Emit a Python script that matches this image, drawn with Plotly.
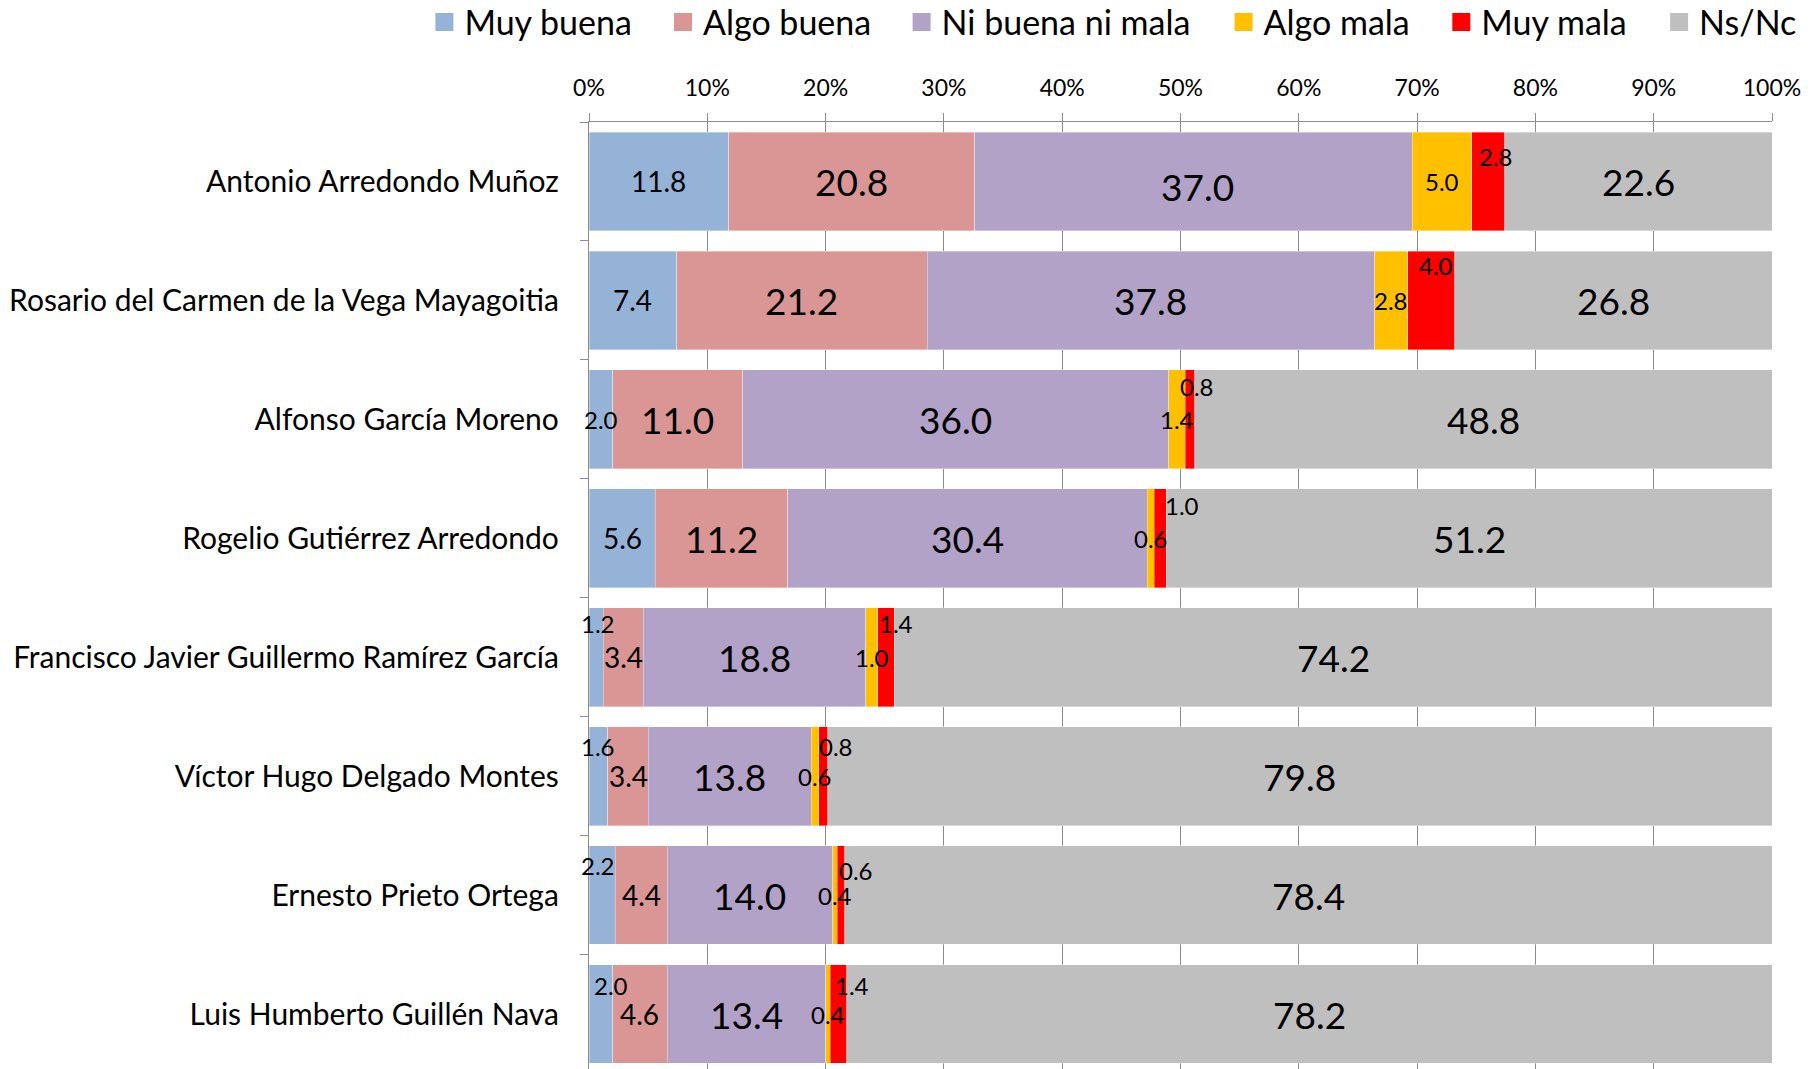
import plotly.graph_objects as go
import numpy as np

# ---------------- data ----------------
candidates = [
    "Antonio Arredondo Muñoz",
    "Rosario del Carmen de la Vega Mayagoitia",
    "Alfonso García Moreno",
    "Rogelio Gutiérrez Arredondo",
    "Francisco Javier Guillermo Ramírez García",
    "Víctor Hugo Delgado Montes",
    "Ernesto Prieto Ortega",
    "Luis Humberto Guillén Nava",
]
muy_buena = [11.8, 7.4, 2.0, 5.6, 1.2, 1.6, 2.2, 2.0]
algo_buena = [20.8, 21.2, 11.0, 11.2, 3.4, 3.4, 4.4, 4.6]
ni_buena_ni_mala = [37.0, 37.8, 36.0, 30.4, 18.8, 13.8, 14.0, 13.4]
algo_mala = [5.0, 2.8, 1.4, 0.6, 1.0, 0.6, 0.4, 0.4]
muy_mala = [2.8, 4.0, 0.8, 1.0, 1.4, 0.8, 0.6, 1.4]
ns_nc = [22.6, 26.8, 48.8, 51.2, 74.2, 79.8, 78.4, 78.2]

series_names = ["Muy buena", "Algo buena", "Ni buena ni mala", "Algo mala", "Muy mala", "Ns/Nc"]
tick_values = [0, 10, 20, 30, 40, 50, 60, 70, 80, 90, 100]
tick_labels = ["0%", "10%", "20%", "30%", "40%", "50%", "60%", "70%", "80%", "90%", "100%"]

# ---------------- styles ----------------
colors = ["#95B3D7", "#D99694", "#B3A2C7", "#FFC000", "#FF0000", "#BFBFBF"]
FONT = "Lato, 'Open Sans', sans-serif"
GRID = "#8C8C8C"
SIZE_L, SIZE_M, SIZE_S = 37, 28, 24
FIG_W, FIG_H = 1816, 1069
# left edge of each legend entry (px inside the figure)
legend_px = [424.4, 663.0, 901.6, 1223.6, 1441.3, 1659.1]
LEGEND_CY = 22.5  # vertical centre of the legend row (px from top)

# label nudges (row, series) -> (dx px, raise px)
label_nudge = {
    (0, 2): (4, -5),
    (0, 4): (8, 25),
    (1, 4): (5, 35),
    (2, 4): (7, 33),
    (3, 4): (22, 33),
    (4, 0): (2, 34), (4, 4): (10, 34),
    (5, 0): (0, 30), (5, 4): (13, 30),
    (6, 0): (-4, 30), (6, 4): (15, 25),
    (7, 0): (10, 29), (7, 4): (13, 29),
}


def label_size(series_idx, v):
    if series_idx in (2, 5):
        return SIZE_L
    if series_idx == 1:
        return SIZE_L if v >= 10 else SIZE_M
    if series_idx == 0:
        return SIZE_M if v >= 5 else SIZE_S
    return SIZE_S


series_values = [muy_buena, algo_buena, ni_buena_ni_mala, algo_mala, muy_mala, ns_nc]

fig = go.Figure()
for name, vals, col in zip(series_names, series_values, colors):
    fig.add_trace(go.Bar(
        y=candidates, x=vals, name=name, orientation="h",
        marker=dict(color=col, line=dict(width=0.6, color="rgba(255,255,255,0.6)")),
        showlegend=False, hoverinfo="x+y+name",
    ))

# legend entries (square symbols), one legend box per entry
legend_layouts = {}
for i, (name, col) in enumerate(zip(series_names, colors)):
    key = "legend" if i == 0 else f"legend{i + 1}"
    fig.add_trace(go.Scatter(
        x=[None], y=[None], mode="markers", name=name, legend=key,
        marker=dict(symbol="square", size=16, color=col, line=dict(width=2, color=col)),
        showlegend=True,
    ))
    legend_layouts[key] = dict(
        orientation="h", x=legend_px[i] / FIG_W, xanchor="left",
        y=1 - LEGEND_CY / FIG_H, yanchor="middle",
        xref="container", yref="container",
        font=dict(family=FONT, size=34, color="black"),
        itemwidth=30, bgcolor="rgba(0,0,0,0)", traceorder="normal",
    )

# data labels
arr = np.array(series_values)
cum = np.cumsum(arr, axis=0)
starts = cum - arr
centers = starts + arr / 2
for s in range(arr.shape[0]):
    for r in range(arr.shape[1]):
        v = arr[s, r]
        dx, up = label_nudge.get((r, s), (0, 0))
        fig.add_annotation(
            x=centers[s, r], y=candidates[r], xref="x", yref="y",
            text=f"{v:.1f}", showarrow=False,
            font=dict(family=FONT, size=label_size(s, v), color="black"),
            xshift=dx, yshift=up,
        )

fig.update_layout(
    width=FIG_W, height=FIG_H,
    margin=dict(l=589, r=44, t=122, b=0, pad=0, autoexpand=False),
    barmode="stack", bargap=0.17,
    plot_bgcolor="white", paper_bgcolor="white",
    font=dict(family=FONT, color="black"),
    **legend_layouts,
)
fig.update_xaxes(
    side="top", range=[0, 100], tickvals=tick_values, ticktext=tick_labels,
    showgrid=True, gridcolor=GRID, gridwidth=1.3,
    showline=True, linecolor=GRID, linewidth=1.3,
    ticks="outside", ticklen=8, tickcolor=GRID, tickwidth=1.3,
    tickfont=dict(family=FONT, size=23, color="black"),
    ticklabelstandoff=8, zeroline=False, fixedrange=True,
)
fig.update_yaxes(
    categoryorder="array", categoryarray=candidates,
    range=[7.462, -0.5], showgrid=False,
    showline=True, linecolor=GRID, linewidth=1.3,
    ticks="outside", ticklen=8, tickcolor=GRID, tickwidth=1.3, tickson="boundaries",
    tickfont=dict(family=FONT, size=30, color="black"),
    ticklabelstandoff=23, zeroline=False, fixedrange=True,
)

fig.write_html(
    "out.html",
    config={"displayModeBar": False},
    post_script="document.body.style.margin='0';document.body.style.overflow='hidden';",
)
